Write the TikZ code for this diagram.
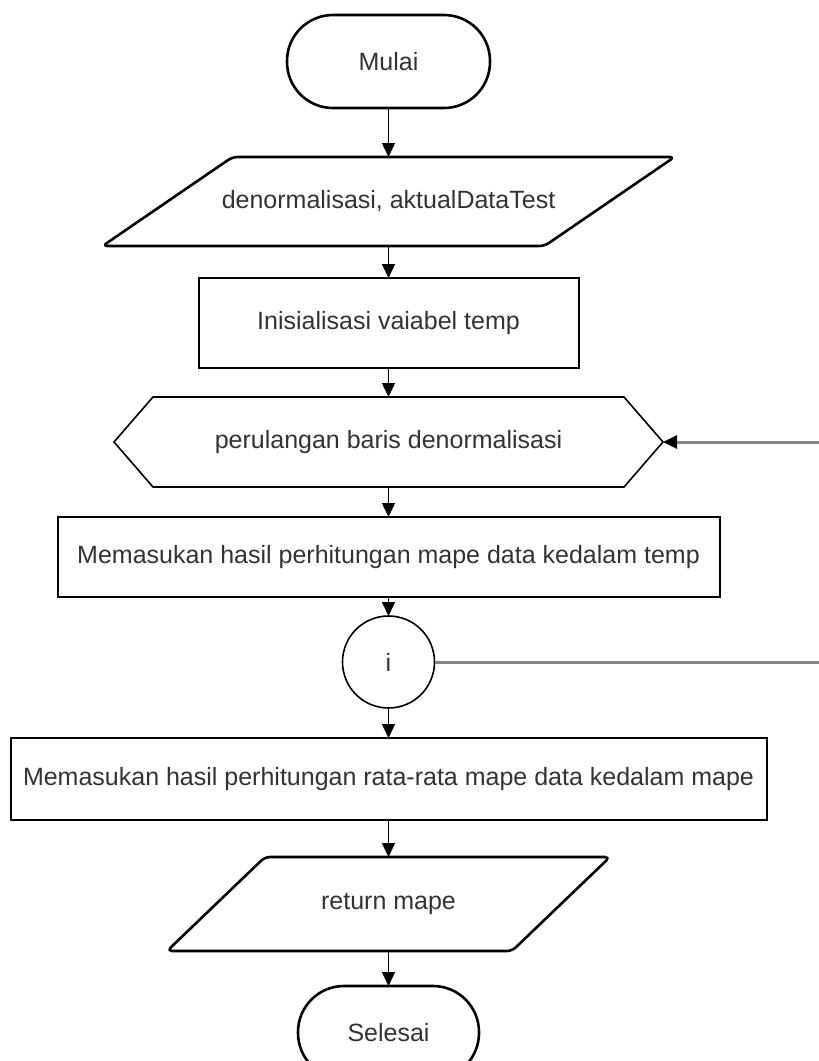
\documentclass[tikz,border=0pt]{standalone}
\usepackage{fontspec}
\setmainfont{Liberation Sans}
\usetikzlibrary{arrows.meta}
\definecolor{textgray}{HTML}{333333}
\definecolor{loopgray}{HTML}{858585}
\begin{document}
\begin{tikzpicture}[x=1pt,y=-1pt,
  txt/.style={text=textgray,font=\fontsize{25}{29}\selectfont,inner sep=0pt,outer sep=0pt},
  terminal/.style={txt,draw=black,line width=2.6pt,rounded corners=46pt,minimum height=93pt},
  procbox/.style={txt,draw=black,line width=2pt},
  ghost/.style={txt},
  outline/.style={draw=black,line width=2.6pt,rounded corners=5pt,line join=round},
  hexline/.style={draw=black,line width=1.6pt},
  flow/.style={-{Triangle[length=14pt,width=13pt]},line width=1.5pt},
  loopline/.style={draw=loopgray,line width=3pt},
  looparrow/.style={loopline,-{Triangle[length=14pt,width=13pt,color=black]}}
]
\useasboundingbox (0,0) rectangle (819,1061);
\clip (0,0) rectangle (819,1061);

% start
\node[terminal,minimum width=203pt] (start) at (388.5,61.5) {Mulai};

% input data (parallelogram)
\node[ghost,minimum width=572pt,minimum height=89pt] (input) at (388.5,201.5) {denormalisasi, aktualDataTest};
\draw[outline] (102.5,246) -- (232.5,157) -- (674.5,157) -- (544.5,246) -- cycle;

% initialisation
\node[procbox,minimum width=380pt,minimum height=90pt] (init) at (388.5,323) {Inisialisasi vaiabel temp};

% loop head (hexagon)
\node[ghost,minimum width=549pt,minimum height=90pt] (loop) at (388.5,442) {perulangan baris denormalisasi};
\draw[hexline] (114,442) -- (153,397) -- (624,397) -- (663,442) -- (624,487) -- (153,487) -- cycle;

% loop body
\node[procbox,minimum width=662pt,minimum height=80pt] (body) at (388.5,557) {Memasukan hasil perhitungan mape data kedalam temp};

% loop counter
\node[txt,draw=black,line width=1.6pt,circle,minimum size=92pt] (ctr) at (388.5,662) {i};

% average
\node[procbox,minimum width=756pt,minimum height=82pt] (avg) at (388.5,779) {Memasukan hasil perhitungan rata-rata mape data kedalam mape};

% output (parallelogram)
\node[ghost,minimum width=443pt,minimum height=94pt] (output) at (388.5,904) {return mape};
\draw[outline] (167,951) -- (265,857) -- (610,857) -- (512,951) -- cycle;

% end
\node[terminal,minimum width=181pt] (stop) at (388.5,1032.5) {Selesai};

% loop return path
\coordinate (backin) at (819,442);
\coordinate (backout) at (819,662);

% connectors
\draw[flow] (start.south) -- (input.north);
\draw[flow] (input.south) -- (init.north);
\draw[flow] (init.south) -- (loop.north);
\draw[flow] (loop.south) -- (body.north);
\draw[flow] (body.south) -- (ctr.north);
\draw[flow] (ctr.south) -- (avg.north);
\draw[flow] (avg.south) -- (output.north);
\draw[flow] (output.south) -- (stop.north);
\draw[loopline] (ctr.east) -- (backout);
\draw[looparrow] (backin) -- (loop.east);
\end{tikzpicture}
\end{document}
